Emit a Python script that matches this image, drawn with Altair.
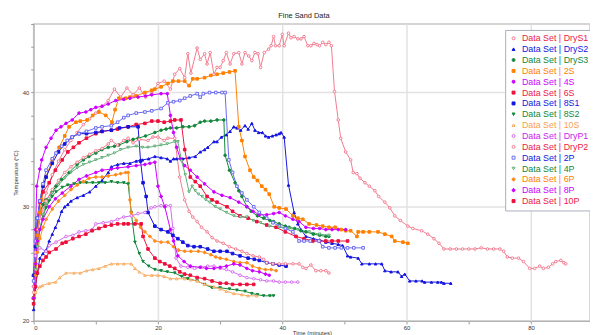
import altair as alt
import pandas as pd

# ---- series data: (time, temperature) pairs ----
DRYS1 = [(0,22.5),(0.5,27),(1,29),(1.5,30.2),(2,31.2),(3,32.8),(4,34),(5,35),(6,35.8),(7,36.5),(8,37.2),(9,37.7),(10,38.2),(11,38.8),(12,39.3),(13,40.3),(14,39.6),(15,40.4),(16,39.8),(17,40.4),(18,39.6),(19,39.9),(20,40.8),(21,41),(22,40.3),(22.7,41.6),(23.5,42.1),(24.3,41.3),(24.8,43.4),(25.3,41.7),(26.3,43.9),(26.8,42.9),(27.5,43.4),(27.9,42.5),(28.4,43.5),(29,41.6),(29.5,42.2),(30,42.2),(30.5,42.8),(31,43.5),(31.6,42.5),(32.2,43.4),(33,43.5),(33.5,42.5),(34,43.5),(34.6,43.2),(35.1,42.8),(35.6,43.5),(36.1,43.4),(36.5,42.2),(37.1,43.5),(37.8,43.8),(38.2,44.1),(38.6,44.9),(38.9,44.1),(39.5,44.1),(40,45.1),(40.3,44.1),(41,45.2),(41.4,44.8),(41.9,44.9),(42.5,44.7),(43,44.7),(43.5,44.9),(44.1,44.1),(44.6,44.1),(45.1,44.3),(45.6,44.2),(46,44.1),(46.5,44.4),(47,44.2),(47.5,44.4),(47.9,44.1),(48.4,40.1),(49,37.6),(49.4,36),(50.2,34.8),(51,34.1),(51.4,33),(52,32.9),(52.5,32.5),(53.3,32.1),(54,31.8),(54.9,31.4),(55.5,30.9),(56.5,30.4),(57.3,29.9),(58.1,29.2),(59,28.8),(60.2,28.3),(61,28.1),(62.4,27.9),(63.4,27.6),(64.4,27.2),(65.2,26.8),(66,26.3),(67,26.3),(68,26.3),(69,26.3),(70,26.3),(71,26.3),(72,26.4),(73,26.3),(74,26.3),(75,26.3),(75.6,26.1),(76.2,25.6),(77,25.5),(78,25.5),(78.8,25.2),(79.8,24.6),(80.6,24.6),(81.4,24.8),(82,24.6),(82.8,24.7),(83.5,25),(84,25.2),(84.8,25.3),(85.3,25.1),(85.6,25)]
DRYS2 = [(0,21),(0.3,23),(0.6,24.2),(1,25.5),(1.5,25.9),(2,26.2),(2.5,27),(3,27.6),(3.5,28.2),(4,28.8),(4.5,29.6),(5,30),(5.5,30.2),(6,30.5),(7,30.8),(8,31),(9,31.3),(10,31.8),(11,32.3),(12,33),(12.5,33.5),(13.5,33.7),(14.5,33.8),(15.5,33.8),(16.5,34),(17.5,34.1),(18.5,34.2),(19.5,34.4),(20.5,34.3),(21.5,34.2),(22,34),(22.5,34.2),(23,34.2),(24,34.2),(25,34.3),(26,34.4),(26.8,34.8),(27.5,35),(28,35.2),(29,35.7),(29.5,35.7),(30.2,36.1),(31,36.3),(31.6,36.6),(32.2,37),(32.7,36.9),(33.3,36.7),(34,37.1),(34.5,36.8),(35.1,37.3),(35.6,36.7),(36.2,36.5),(36.8,36.5),(37.3,36.2),(37.8,36.1),(38.4,36.2),(39,36.3),(39.5,36.4),(39.8,36.5),(40.3,36.1),(41,31.9),(41.9,29.5),(42.5,28.5),(43,28),(43.8,27.4),(45,27.2),(46,27.1),(47,26.9),(48,26.8),(49,26.7),(49.7,26.6),(50.5,25.7),(51,25.6),(52.2,25.5),(52.8,25),(54,25),(55,25),(56,25),(56.5,24.4),(57.5,24.3),(58.6,24.3),(59.2,23.9),(59.7,24.1),(60.5,23.5),(61.5,23.5),(62.5,23.5),(62.9,23.4),(64,23.4),(65,23.4),(65.6,23.4),(66,23.3),(67.1,23.3)]
DRYS3 = [(0,22),(0.3,25),(0.5,27),(1,29.5),(1.5,30.2),(2,30.6),(3,31.3),(3.6,31.8),(4.5,32.4),(5.7,33),(7,33.7),(8,34.1),(8.9,34.4),(10,34.7),(11,35),(12,35.2),(13,35.3),(13.7,35.4),(15,35.7),(16,35.9),(16.8,36),(18,36.2),(19.5,36.5),(20.5,36.7),(21.3,36.8),(22,36.9),(23,36.9),(24,37),(25,37),(25.9,37.1),(26.8,37.4),(27.5,37.5),(28.5,37.5),(29.5,37.6),(30.6,37.6),(30.8,34.5),(31.5,33.2),(32.4,32.1),(33,31.4),(33.5,30.9),(34.3,30),(35,29.6),(36,29.2),(37,29),(38,28.8),(38.6,28.7),(39.5,28.5),(40.5,28.3),(41.1,28.2),(42,28.1),(43,27.9),(43.8,27.8),(45,27.6),(46,27.5),(47,27.4),(47.5,27.4)]
S2 = [(0,22),(0.3,25),(0.6,27.5),(1,29.5),(1.3,30.6),(2,32.6),(3,34.1),(4.1,35.2),(5,36.2),(5.7,37),(6.8,37.4),(7.5,37.5),(8.6,37.6),(9.5,38),(10.5,38.3),(11.6,38),(12.6,37.4),(13.1,38.5),(13.7,39.5),(14.8,39.5),(15.5,39.6),(16.5,39.7),(17.9,40),(19,40.2),(19.5,40.3),(20.5,40.5),(21.6,40.8),(22.4,41),(23.3,41),(24.3,41),(25,40.6),(25.6,41.2),(26.3,41.2),(27.5,41.3),(28.5,41.5),(29.5,41.6),(30.5,41.7),(31.5,41.8),(32.4,41.9),(33,37),(33.5,35.8),(34,34.4),(34.8,33.2),(35.4,32.6),(36,32.3),(36.7,31.8),(37.3,31.5),(37.9,31.1),(38.7,30),(39.5,29.9),(40.6,29.8),(41.7,29.2),(42.5,29),(43.3,28.9),(44.3,28.5),(45.5,28.4),(46.5,28.3),(47.5,28.2),(48.5,28.2),(49.5,28),(50.2,27.9),(51,27.9),(52,27.4),(52.2,27.8),(53,27.8),(54,27.8),(55.4,27.8),(56.5,27.6),(57.6,27.4),(58.1,27),(59.4,26.9),(60.2,26.8)]
S4 = [(0,23),(0.3,28),(0.5,31.8),(1,33.3),(1.3,34.1),(2,35.2),(2.8,36),(3.6,36.7),(4.4,37),(5.2,37.3),(6.2,37.6),(7.3,38.2),(8.4,38.3),(9.2,38.5),(10,38.7),(11,38.8),(12,39),(13.2,39.3),(14.5,39.4),(15.5,39.5),(16.8,39.6),(18,39.7),(19,39.8),(20.5,39.9),(21.5,39.9),(22,38),(22.5,36.5),(23,35.2),(23.6,34.2),(24.3,33.6),(25.2,33.2),(26.3,32.6),(27.5,32),(29,31.3),(30.3,31),(31.6,30.8),(33,30.4),(34.3,30),(35.3,29.6),(36.3,29.3),(37.5,29.3),(38.6,29.4),(39.5,29.5),(40.5,29.2),(41.7,28.9),(42.7,28.7),(43.8,28.2),(45,28.1),(46,28.1),(47,28),(48,28),(49,28),(50.2,28)]
S6 = [(0,22),(0.5,28),(1,30.4),(1.5,31.3),(2.5,32.1),(3.5,33.2),(4.6,34.1),(5.5,34.8),(6.4,35.2),(7.3,35.6),(8.5,36),(10,36.4),(11,36.6),(12.5,36.7),(13.5,36.8),(15.2,37),(16.5,37.2),(17.9,37.3),(19,37.5),(20,37.5),(21,37.4),(22,37.5),(22.7,37.6),(23.7,37.6),(24.3,35),(25.2,32.6),(26,32.2),(26.8,31.8),(27.9,30.9),(28.7,30.6),(29.5,30.4),(31.1,30),(32,29.6),(33.2,29.2),(34.5,29),(35.9,28.7),(37.5,28.4),(39,28.2),(40.5,27.8),(42.2,27.4),(43.5,27.2),(44.9,27),(46,27),(47,27),(48,27),(49,27),(50.5,27)]
S8_1 = [(0,24),(0.3,26.5),(0.6,29),(1,30.5),(1.5,31.8),(2,32.6),(3,33.8),(4,34.8),(5,35.5),(6.2,36.1),(7.3,36.4),(8.5,36.4),(10,36.5),(11,36.6),(12.5,36.7),(13.8,36.9),(15.2,37),(16.8,37),(17.2,34),(17.6,32.1),(18.1,30.9),(18.4,29.5),(19.5,28.3),(20.5,28),(21.6,27.8),(22.4,27.5),(23.2,27.2),(24,26.9),(24.8,26.6),(25.8,26.5),(26.8,26.5),(28,26.3),(29,26.1),(30,26.1),(31.1,26.1),(32,25.9),(33.2,25.7),(34.5,25.5),(35.5,25.4),(36.3,25.3),(37.5,25.1),(38.5,25),(39.5,24.9),(40.6,24.8)]
S8_2 = [(0,21.5),(0.3,24),(0.6,26.5),(1,28),(1.5,29.2),(2,29.9),(2.5,30.5),(3,30.9),(3.6,31.3),(4.6,31.7),(5.5,31.9),(6.5,32),(7.5,32.1),(8.5,32.1),(9.5,32.1),(10.5,32.1),(11.5,32.1),(12.5,32.2),(13.5,32.1),(14.5,32.1),(15.2,32),(15.7,29.5),(16.3,26.9),(17,25.9),(17.6,25.2),(18.5,24.8),(19.5,24.5),(20.5,24.4),(21.5,24.3),(22.7,24.2),(23.8,23.9),(24.8,23.7),(26.3,23.5),(27.5,23.2),(28.7,22.9),(30,22.9),(31.5,22.8),(32.7,22.7),(34,22.6),(35.1,22.4),(36,22.3),(37,22.2),(38,22.2),(38.6,22.2)]
S10 = [(0,21.5),(0.3,22.5),(1,23),(1.4,23.1),(2.5,23.3),(3.5,23.4),(4.2,23.8),(5.2,24.2),(6.5,24.2),(7.5,24.2),(8.5,24.4),(9.5,24.5),(10.5,24.6),(11.5,24.8),(12.5,25),(13.5,25),(14.5,25),(15.7,25),(16.3,24.6),(17,24.3),(17.9,24),(19,24),(20,24),(21,23.9),(22,23.7),(23,23.7),(24.3,23.7),(25.3,23.6),(26.3,23.5),(27.5,23.2),(29,23),(30,22.8),(31,22.6),(32.2,22.4),(33.5,22.3),(34.5,22.2),(35.9,22.2)]
DRYP1 = [(0,23),(0.3,25.7),(1,26.4),(2,26.1),(2.5,26.6),(3.6,26.9),(5.2,27.4),(6.3,27.5),(7.3,27.8),(8.4,27.9),(9.4,28),(10,28.5),(11.2,28.6),(12.5,28.7),(13.5,28.9),(14.5,29.1),(15.7,29.2),(16.8,29.4),(17.9,29.5),(18.9,29.9),(19.5,30),(20.5,30.1),(21.3,30.1),(22,30.1),(22.4,28.1),(22.9,25.5),(23.7,24.8),(24.8,24.7),(25.9,24.6),(27,24.7),(28,24.8),(29,24.8),(30,24.6),(31,24.5),(32,24.3),(33.2,24),(34.3,23.8),(35.4,23.7),(36.5,23.6),(37.5,23.5),(38.6,23.5),(39.5,23.4),(40.5,23.4),(41.5,23.4),(42.5,23.4)]
DRYP2 = [(0,23),(0.3,26),(0.7,28),(1,29),(2,30.5),(3,31.5),(4,32.3),(5,33),(6,33.5),(7,33.9),(8,34.3),(9,34.6),(10,34.9),(11,35.1),(12,35.5),(12.5,35.8),(13.5,35.4),(14.5,35.8),(15.2,36),(16,35.6),(17,35.9),(18.4,35.8),(19.2,36.1),(20,36.1),(21,35.8),(21.6,36),(22.7,36),(23.5,32.6),(24.3,30.6),(25,29.6),(25.6,29.1),(26.3,28.7),(27,28.2),(27.9,27.8),(28.7,27.3),(29.5,27),(30.5,26.8),(31.5,26.5),(32.5,26.3),(33.5,26.1),(34.3,25.9),(35.3,25.7),(36.3,25.6),(37,25.4),(37.5,25.1),(38.5,25),(39.5,25),(40.5,25),(41.7,25),(42.7,25),(43.3,24.7),(43.8,24.6),(44.6,24.9),(45.4,24.4),(46.2,24.4),(47,24.4),(47.5,24.2)]
P2 = [(0,23.5),(0.3,27),(0.6,29),(1,30.5),(1.5,32),(2,33.2),(3,34.2),(3.6,34.7),(4.5,35.3),(5.4,35.8),(6.2,36.1),(7.3,36.4),(8.5,36.6),(10,36.9),(11,37),(12.5,37.1),(13.5,37.4),(14.5,37.8),(15.2,38),(16.5,38.2),(17.9,38.3),(19,38.4),(20.5,38.6),(21.6,39.1),(22.5,39.2),(23.5,39.3),(24.3,39.5),(25.2,39.7),(26.3,39.9),(26.8,39.6),(27.3,39.9),(28.3,40),(29.3,40),(30.3,40),(30.8,40),(31.4,34.1),(32,33),(32.7,31.8),(33.5,31.2),(34.3,30.6),(35.4,30),(36.3,29.5),(37.5,29),(38.5,28.6),(39.5,28.3),(40.5,28.1),(41.7,27.8),(42.7,27),(43.5,27),(44.5,27),(45.9,27),(46.5,26.5),(47.5,26.4),(48.5,26.4),(49.5,26.4),(50.5,26.4),(51.5,26.4),(53,26.4)]
P4 = [(0,22),(0.3,24.5),(0.6,26.5),(1,28),(1.5,29.3),(2,30.2),(3,31.2),(4,31.9),(5,32.5),(6,33),(7,33.4),(8,33.7),(9,33.9),(10,34.1),(11,34.3),(12,34.5),(13,34.7),(14,35),(15.2,35.2),(16.5,35.3),(17.5,35.2),(18.4,35.2),(19.5,35.3),(20.5,35.4),(21.5,35.5),(22.7,35.7),(23.2,35.7),(23.8,34),(24.4,32.8),(25,31.3),(25.5,31.8),(26,31.4),(26.5,31.1),(27.1,30.9),(27.7,30.6),(28.3,30.4),(29.2,30),(30,29.8),(31,29.5),(32.2,29.2),(33.3,29.1),(34.3,29.1),(35.3,28.8),(36.5,28.6),(37.9,28.3),(39.5,28.2),(41.1,28.1),(42.5,28),(44.3,27.8),(46,27.6),(47.5,27.5)]
P6 = [(0,22),(0.3,24),(0.6,26),(1,27.2),(1.5,28.2),(2,28.9),(3,29.8),(4,30.5),(5,31),(6,31.5),(7,31.9),(8,32.2),(8.9,32.5),(10,32.6),(11,32.6),(12,32.7),(13.2,32.8),(14,32.9),(14.8,33),(15.2,33),(15.5,30.6),(15.7,29.5),(16.5,28.8),(17.2,28.2),(17.9,27.8),(18.7,27.4),(19.5,27),(20.5,26.9),(21.6,26.9),(22.5,26.5),(23.3,26.2),(24.3,26.1),(25.3,26.1),(26.5,26.1),(27.5,26),(28.5,25.8),(29.3,25.6),(30,25.5),(31,25.4),(32.2,25.2),(33.2,25.1),(34.3,25.1),(35.2,24.8),(36.3,24.6),(37.3,24.5),(38.2,24.5),(39,24.4)]
P8 = [(0,22),(0.3,25),(0.6,27),(1,28),(1.5,28.9),(2.5,30),(3.5,30.7),(4.6,31.2),(6,31.8),(7.3,32.4),(8.5,32.7),(10,33),(11,33.2),(12.5,33.3),(13.5,33.4),(15.2,33.5),(16.5,33.6),(17.9,33.7),(18.7,33.8),(19.5,33.9),(20,31.8),(20.5,30.9),(21.1,30),(22,28),(22.5,27),(23.2,25.7),(24.2,25.2),(25.2,24.8),(26.8,24.7),(27.8,24.6),(29,24.6),(30,24.7),(31,24.8),(32.2,25),(33.2,24.9),(34.3,24.6),(35.2,24.4),(36.3,24.3),(37.3,24.1),(37.9,24)]
P10 = [(0,21.5),(0.3,23),(0.6,24.2),(1,24.8),(1.5,25.3),(2,25.6),(2.5,26),(3.6,26.3),(4.6,26.8),(5.2,26.9),(6.3,27.2),(7.3,27.4),(8.4,27.6),(9.4,27.9),(10.5,28.1),(11.5,28.3),(12.5,28.4),(13.5,28.5),(14.5,28.5),(15.2,28.5),(16.3,28.5),(17.3,28.5),(17.6,27.4),(18.4,26.3),(19.5,25.5),(20.3,25.2),(21.1,25),(21.9,24.8),(22.7,24.6),(23.5,24.3),(24.3,24.1),(25.2,24),(26.3,23.8),(27.5,23.7),(28.7,23.5),(30,23.3),(31,23.3),(32,23.2),(33.2,23.2),(34.3,23.2),(35.4,23.2)]

SERIES_NAMES = ["Data Set | DryS1", "Data Set | DryS2", "Data Set | DryS3", "Data Set | 2S",
                "Data Set | 4S", "Data Set | 6S", "Data Set | 8S1", "Data Set | 8S2",
                "Data Set | 10S", "Data Set | DryP1", "Data Set | DryP2", "Data Set | 2P",
                "Data Set | 4P", "Data Set | 6P", "Data Set | 8P", "Data Set | 10P"]
SERIES_DATA = [DRYS1, DRYS2, DRYS3, S2, S4, S6, S8_1, S8_2, S10, DRYP1, DRYP2, P2, P4, P6, P8, P10]

LINE_COLORS = ["#f27a8e", "#1414e0", "#12873a", "#ff8000", "#cc00ff", "#ee0f3c", "#1414e0", "#12873a",
               "#f9a85a", "#d46cf0", "#f27a8e", "#6a6af0", "#5fae78", "#ff8a1a", "#cc00ff", "#ee0f3c"]
TEXT_COLORS = ["#ee1744", "#1414e0", "#12873a", "#ff8000", "#cc00ff", "#ee1744", "#1414e0", "#12873a",
               "#f7a050", "#cc22ee", "#ee1744", "#1414e0", "#12873a", "#ff8000", "#cc00ff", "#ee1744"]
SHAPES = ["circle", "triangle-up", "circle", "square", "circle", "square", "square", "triangle-down",
          "triangle-up", "circle", "circle", "square", "triangle-down", "cross", "cross", "square"]
OPEN = [True, False, False, False, False, False, False, False,
        True, True, True, True, True, False, False, False]
FILLS = ["white" if o else c for o, c in zip(OPEN, LINE_COLORS)]

Y_TICKS = [20, 22, 24, 26, 28, 30, 32, 34, 36, 38, 40, 42, 44, 46]
X_TICKS = [0, 10, 20, 30, 40, 50, 60, 70, 80]

rows = []
for name, pts in zip(SERIES_NAMES, SERIES_DATA):
    for t, y in pts:
        rows.append({"series": name, "t": t, "temp": y})
df = pd.DataFrame(rows)

FONT = "Liberation Sans"

label_expr = "[" + ",".join("'%s'" % c for c in TEXT_COLORS) + "][indexof([" + \
    ",".join("'%s'" % n for n in SERIES_NAMES) + "], datum.value)]"

legend = alt.Legend(
    orient="none", legendX=478, legendY=6, title=None,
    labelFontSize=9, labelFont=FONT, labelColor=alt.ExprRef(label_expr),
    symbolSize=9, symbolStrokeWidth=1, rowPadding=1.0, labelOffset=4,
    padding=4, strokeColor="#a9aebb", fillColor="white", labelLimit=200,
)

x_enc = alt.X("t:Q", scale=alt.Scale(domain=[0, 89.5], nice=False, zero=False),
              axis=alt.Axis(values=X_TICKS, title="Time (minutes)",
                            labelExpr="datum.value % 20 === 0 ? datum.label : ''",
                            gridOpacity={"condition": {"test": "datum.value % 20 === 0 && datum.value > 0", "value": 1}, "value": 0},
                            tickSize=3, labelFontSize=6, titleFontSize=6, titlePadding=-1,
                            labelPadding=1, titleFontWeight="normal"))
y_enc = alt.Y("temp:Q", scale=alt.Scale(domain=[20, 46], nice=False, zero=False),
              axis=alt.Axis(values=Y_TICKS, title="Temperature (°C)",
                            labelExpr="datum.value % 10 === 0 ? datum.label : ''",
                            gridOpacity={"condition": {"test": "datum.value % 10 === 0 && datum.value > 20", "value": 1}, "value": 0},
                            tickSize=3, labelFontSize=6, titleFontSize=6, titlePadding=4,
                            labelPadding=2, titleFontWeight="normal"))
color_enc = alt.Color("series:N", scale=alt.Scale(domain=SERIES_NAMES, range=LINE_COLORS),
                      legend=legend, sort=SERIES_NAMES)

lines = alt.Chart(df).mark_line(strokeWidth=1).encode(
    x=x_enc, y=y_enc, color=color_enc, order="t:Q"
)
points = alt.Chart(df).mark_point(size=7, strokeWidth=1, opacity=1).encode(
    x=x_enc, y=y_enc, color=color_enc,
    shape=alt.Shape("series:N", scale=alt.Scale(domain=SERIES_NAMES, range=SHAPES), legend=legend),
    fill=alt.Fill("series:N", scale=alt.Scale(domain=SERIES_NAMES, range=FILLS), legend=legend),
)

chart = alt.layer(lines, points).properties(
    width=564, height=301,
    title=alt.Title("Fine Sand Data", fontSize=7.5, fontWeight="normal", font=FONT,
                    color="#222", offset=4, dx=-8),
    autosize=alt.AutoSizeParams(type="none"),
    padding={"left": 26, "top": 14, "right": 0, "bottom": 12},
).configure_view(stroke="#c8c8c8", strokeWidth=1.5).configure_axis(
    domainColor="#b0b0b0", tickColor="#999", gridColor="#e2e2e2", gridWidth=1.5,
    labelFont=FONT, titleFont=FONT, labelColor="#333", titleColor="#333"
)

chart.save("out.html", embed_options={"renderer": "svg", "actions": False})
